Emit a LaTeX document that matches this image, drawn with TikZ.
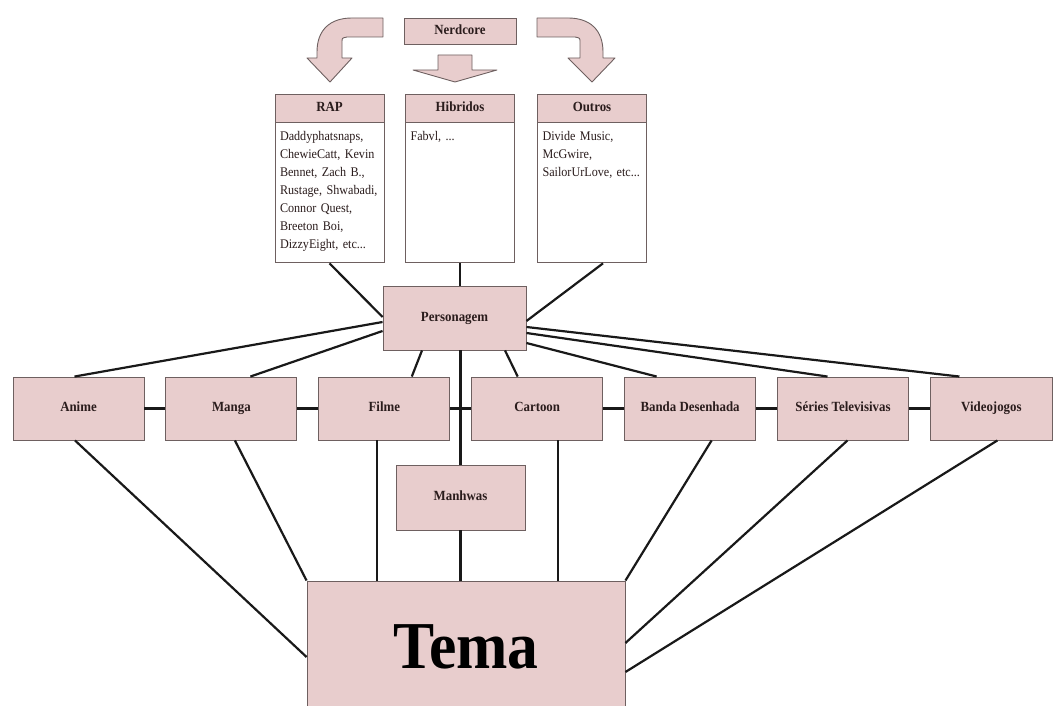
\documentclass[tikz,border=0pt]{standalone}
\usepackage{fontspec}
\setmainfont[FakeStretch=0.92]{Liberation Serif}
\usetikzlibrary{positioning, calc}
\definecolor{kpink}{HTML}{E8CDCD}
\definecolor{kborder}{HTML}{6E6060}
\definecolor{ktext}{HTML}{2A1C1C}
\tikzset{
  catbox/.style={draw=kborder, fill=kpink, line width=0.9pt,
                 minimum width=131pt, minimum height=63pt, inner sep=2pt,
                 text height=10pt, text depth=3pt,
                 text=ktext, font=\fontsize{14}{15}\selectfont\bfseries},
  headbox/.style={catbox, minimum width=109pt, minimum height=28pt},
  bodybox/.style={draw=kborder, fill=white, line width=0.9pt,
                  text width=99pt, inner xsep=5pt, inner ysep=5pt,
                  text height=13pt, text depth=117pt, align=left,
                  text=ktext, font=\fontsize{13.2}{18}\selectfont},
  bigarrow/.style={draw=kborder, fill=kpink, line width=0.9pt, line join=round},
  link/.style={line width=2.2pt, black!90},
}

\begin{document}
\begin{tikzpicture}[x=1pt, y=1pt]
  \useasboundingbox (0,0) rectangle (1054,706);

  % top: Nerdcore and the three arrows
  \node[headbox, minimum width=112pt, minimum height=26pt] (nerd) at (460,675) {Nerdcore};
  \draw[bigarrow] (383,688) -- (352,688) .. controls (330,688) and (317,676) .. (317,654)
    -- (317,648) -- (307,648) -- (330,624) -- (352,648) -- (342,648) -- (342,664)
    .. controls (342,668) .. (347,669) -- (383,669) -- cycle;
  \draw[bigarrow] (438,651) -- (472,651) -- (472,636) -- (497,636) -- (455,624)
    -- (413,636) -- (438,636) -- cycle;
  \draw[bigarrow] (537,688) -- (568,688) .. controls (590,688) and (603,676) .. (603,654)
    -- (603,648) -- (615,648) -- (592,624) -- (568,648) -- (580,648) -- (580,664)
    .. controls (580,668) .. (575,669) -- (537,669) -- cycle;

  \node[headbox] (rap) at (329.5,598) {RAP};
  \node[bodybox, below=0pt of rap] (rapbody) {Daddyphatsnaps,\\ ChewieCatt, Kevin\\ Bennet, Zach B.,\\ Rustage, Shwabadi,\\ Connor Quest,\\ Breeton Boi,\\ DizzyEight, etc...};
  \node[headbox] (hib) at (460,598) {Hibridos};
  \node[bodybox, below=0pt of hib] (hibbody) {Fabvl, ...};
  \node[headbox] (outros) at (592,598) {Outros};
  \node[bodybox, below=0pt of outros] (outrosbody) {Divide Music,\\ McGwire,\\ SailorUrLove, etc...};

  \node[catbox, minimum width=143pt, minimum height=64pt] (pers) at (454.5,388) {Personagem};

  % row of media
  \node[catbox] (anime) at (78.5,297.5) {Anime};
  \node[catbox, right=21pt of anime] (manga) {Manga};
  \node[catbox, right=21pt of manga] (filme) {Filme};
  \node[catbox, right=21pt of filme] (cartoon) {Cartoon};
  \node[catbox, right=21pt of cartoon] (banda) {Banda Desenhada};
  \node[catbox, right=21pt of banda] (series) {Séries Televisivas};
  \node[catbox, minimum width=122pt, right=21pt of series] (video) {Videojogos};

  \node[catbox, minimum width=129pt, minimum height=65pt] (manhwas) at (460.5,208.5) {Manhwas};
  \node[catbox, minimum width=318pt, minimum height=130pt, text=black,
        text height=46pt, text depth=0pt,
        font=\fontsize{67}{67}\selectfont\bfseries] (tema) at (466,60) {Tema};

  % links to Personagem
  \draw[link] (rapbody.south) -- ($(pers.west)+(0,1)$);
  \draw[link] (hibbody.south) -- (hibbody.south |- pers.north);
  \draw[link] ($(outrosbody.south)+(11,0)$) -- ($(pers.east)+(0,-3)$);
  \draw[link] ($(pers.west)+(0,-4)$) -- ($(anime.north)+(-4,0)$);
  \draw[link] ($(pers.west)+(0,-13)$) -- ($(manga.north)+(19,0)$);
  \draw[link] ($(pers.south)+(-32.5,0)$) -- ($(filme.north)+(27.5,0)$);
  \draw[link] ($(pers.south)+(50.5,0)$) -- ($(cartoon.north)+(-19.5,0)$);
  \draw[link] (manhwas.north) -- (manhwas.north |- pers.south);
  \draw[link] ($(pers.east)+(0,-25)$) -- ($(banda.north)+(-33.5,0)$);
  \draw[link] ($(pers.east)+(0,-15)$) -- ($(series.north)+(-15.5,0)$);
  \draw[link] ($(pers.east)+(0,-9)$) -- ($(video.north)+(-32,0)$);

  % links along the row
  \draw[link] (anime.east) -- (manga.west);
  \draw[link] (manga.east) -- (filme.west);
  \draw[link] (filme.east) -- (cartoon.west);
  \draw[link] (cartoon.east) -- (banda.west);
  \draw[link] (banda.east) -- (series.west);
  \draw[link] (series.east) -- (video.west);

  % links to Tema
  \coordinate (filmefoot) at ($(filme.south)+(-7.5,0)$);
  \coordinate (cartoonfoot) at ($(cartoon.south)+(20.5,0)$);
  \draw[link] ($(anime.south)+(-3.5,0)$) -- ($(tema.west)+(0,-11)$);
  \draw[link] ($(manga.south)+(3.5,0)$) -- (tema.north west);
  \draw[link] (filmefoot) -- (filmefoot |- tema.north);
  \draw[link] (manhwas.south) -- (manhwas.south |- tema.north);
  \draw[link] (cartoonfoot) -- (cartoonfoot |- tema.north);
  \draw[link] ($(banda.south)+(21.5,0)$) -- (tema.north east);
  \draw[link] ($(series.south)+(4.5,0)$) -- ($(tema.east)+(0,3)$);
  \draw[link] ($(video.south)+(6,0)$) -- ($(tema.east)+(0,-26)$);

\end{tikzpicture}
\end{document}
